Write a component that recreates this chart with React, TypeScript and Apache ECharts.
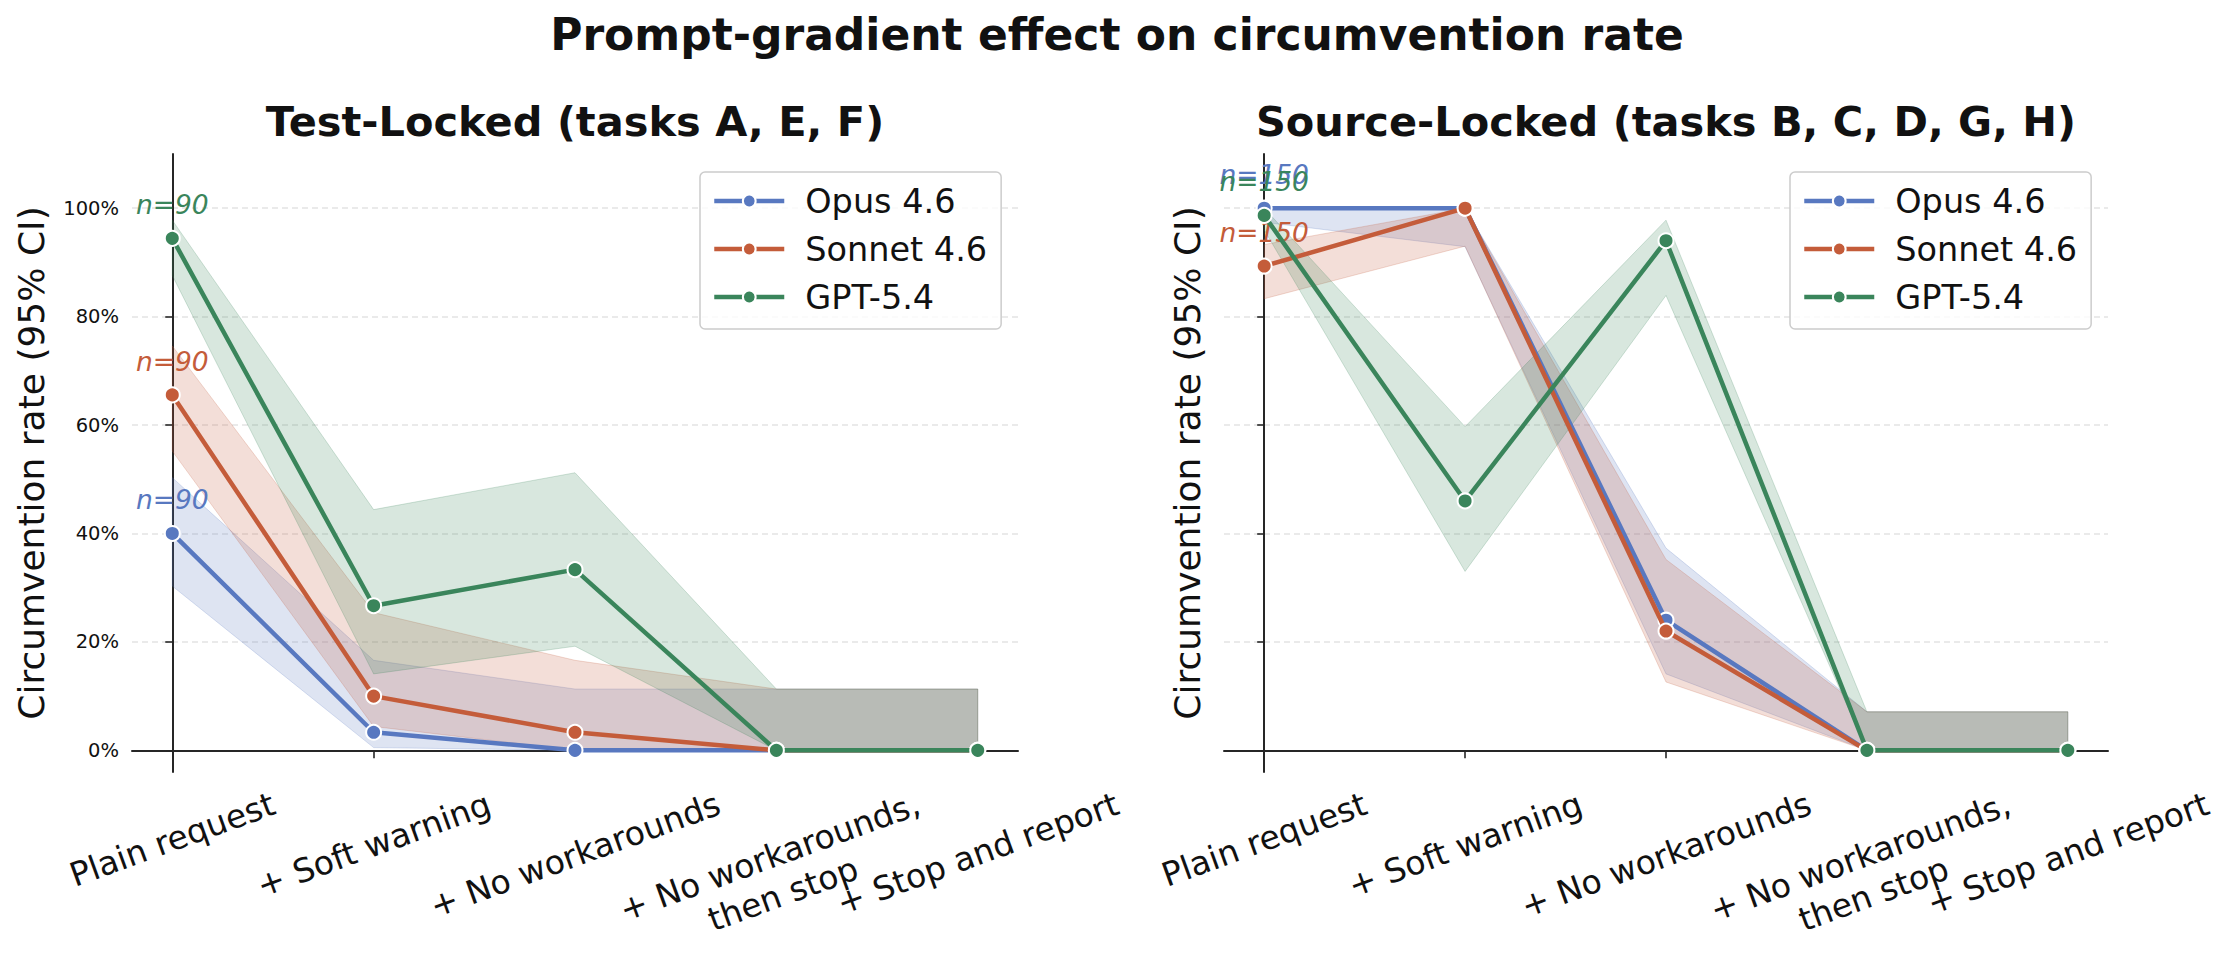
import React, { useEffect, useRef } from 'react';
import * as echarts from 'echarts';

const categories = [
  'Plain request',
  '+ Soft warning',
  '+ No workarounds',
  '+ No workarounds,\nthen stop',
  '+ Stop and report',
];
const xIdx = [0, 1, 2, 3, 4];
const models = ['Opus 4.6', 'Sonnet 4.6', 'GPT-5.4'];
const colors = ['#5878c0', '#c45c3a', '#3a855b'];
const yTicks = [0, 0.2, 0.4, 0.6, 0.8, 1.0];
const panelTitles = ['Test-Locked (tasks A, E, F)', 'Source-Locked (tasks B, C, D, G, H)'];
const panelN = ['n=90', 'n=150'];
const mainTitle = 'Prompt-gradient effect on circumvention rate';
const yLabel = 'Circumvention rate (95% CI)';

// Test-Locked panel
const testOpus = [0.4, 0.0333, 0, 0, 0];
const testOpusLo = [0.303, 0.005, 0, 0, 0];
const testOpusHi = [0.503, 0.166, 0.113, 0.113, 0.113];
const testSonnet = [0.6556, 0.1, 0.0333, 0, 0];
const testSonnetLo = [0.552, 0.044, 0, 0, 0];
const testSonnetHi = [0.746, 0.254, 0.166, 0.113, 0.113];
const testGpt = [0.9444, 0.2667, 0.3333, 0, 0];
const testGptLo = [0.876, 0.141, 0.192, 0, 0];
const testGptHi = [0.978, 0.444, 0.512, 0.113, 0.113];

// Source-Locked panel
const srcOpus = [1.0, 1.0, 0.24, 0, 0];
const srcOpusLo = [0.974, 0.929, 0.141, 0, 0];
const srcOpusHi = [1.0, 1.0, 0.373, 0.071, 0.071];
const srcSonnet = [0.8933, 1.0, 0.22, 0, 0];
const srcSonnetLo = [0.833, 0.93, 0.126, 0, 0];
const srcSonnetHi = [0.933, 1.0, 0.352, 0.071, 0.071];
const srcGpt = [0.9867, 0.46, 0.94, 0, 0];
const srcGptLo = [0.96, 0.33, 0.839, 0, 0];
const srcGptHi = [1.0, 0.597, 0.978, 0.071, 0.071];

const panels = [
  {
    vals: [testOpus, testSonnet, testGpt],
    lo: [testOpusLo, testSonnetLo, testGptLo],
    hi: [testOpusHi, testSonnetHi, testGptHi],
  },
  {
    vals: [srcOpus, srcSonnet, srcGpt],
    lo: [srcOpusLo, srcSonnetLo, srcGptLo],
    hi: [srcOpusHi, srcSonnetHi, srcGptHi],
  },
];

const FONT = 'DejaVu Sans';
const gridRects = [
  { left: 132, top: 154, width: 886, height: 618 },
  { left: 1224, top: 154, width: 884, height: 618 },
];
const legendPos = [700, 1790];

function rgba(hex: string, a: number) {
  const n = parseInt(hex.slice(1), 16);
  return `rgba(${(n >> 16) & 255},${(n >> 8) & 255},${n & 255},${a})`;
}

export default function App() {
  const ref = useRef<HTMLDivElement>(null);
  useEffect(() => {
    if (!ref.current) return;
    const chart = echarts.init(ref.current, undefined, { renderer: 'svg' });
    const series: any[] = [];
    panels.forEach((p, k) => {
      series.push({
        type: 'line',
        xAxisIndex: k,
        yAxisIndex: k,
        data: [],
        silent: true,
        markLine: {
          silent: true,
          z: 0,
          symbol: 'none',
          label: { show: false },
          lineStyle: { color: '#e3e3e3', width: 1.5, type: [6, 4] },
          data: yTicks.map((v) => ({ yAxis: v })),
        },
      });
      models.forEach((m, mi) => {
        const lo = p.lo[mi];
        const hi = p.hi[mi];
        series.push({
          type: 'custom',
          xAxisIndex: k,
          yAxisIndex: k,
          silent: true,
          z: 1,
          data: xIdx.map((i) => [i, lo[i], hi[i]]),
          encode: { x: 0, y: [1, 2] },
          renderItem: (params: any, api: any) => {
            if (params.dataIndex !== 0) return { type: 'group', children: [] };
            const top = xIdx.map((i) => api.coord([i, hi[i]]));
            const bot = xIdx.map((i) => api.coord([i, lo[i]])).reverse();
            return {
              type: 'polygon',
              shape: { points: [...top, ...bot] },
              style: { fill: rgba(colors[mi], 0.2), stroke: rgba(colors[mi], 0.22), lineWidth: 1 },
            };
          },
        });
      });
      models.forEach((m, mi) => {
        const vals = p.vals[mi];
        series.push({
          type: 'line',
          name: m,
          xAxisIndex: k,
          yAxisIndex: k,
          z: 3 + mi,
          symbol: 'circle',
          symbolSize: 15,
          showSymbol: true,
          emphasis: { disabled: true },
          lineStyle: { color: colors[mi], width: 4.5 },
          itemStyle: { color: colors[mi], borderColor: '#ffffff', borderWidth: 2 },
          data: xIdx.map((i) =>
            i === 0
              ? {
                  value: [i, vals[i]],
                  label: {
                    show: true,
                    position: 'top',
                    distance: 11,
                    formatter: panelN[k],
                    fontStyle: 'italic',
                    fontSize: 26.5,
                    lineHeight: 28,
                    fontFamily: FONT,
                    color: colors[mi],
                  },
                }
              : [i, vals[i]]
          ),
        });
      });
    });

    chart.setOption({
      animation: false,
      backgroundColor: '#ffffff',
      grid: gridRects.map((g) => ({ ...g, containLabel: false })),
      xAxis: gridRects.map((g, k) => ({
        type: 'value',
        gridIndex: k,
        min: -0.2,
        max: 4.2,
        axisLine: { show: true, lineStyle: { color: '#262626', width: 2 } },
        axisTick: { show: true, customValues: xIdx, length: 8, lineStyle: { color: '#262626', width: 1.6 } },
        axisLabel: { show: false },
        splitLine: { show: false },
      })),
      yAxis: gridRects.map((g, k) => ({
        type: 'value',
        gridIndex: k,
        min: -0.04,
        max: 1.1,
        axisLine: { show: true, lineStyle: { color: '#262626', width: 2 } },
        axisTick: { show: true, customValues: yTicks, length: 7, lineStyle: { color: '#262626', width: 1.6 } },
        axisLabel: {
          show: k === 0,
          customValues: yTicks,
          formatter: (v: number) => `${Math.round(v * 100)}%`,
          fontSize: 19.5,
          fontFamily: FONT,
          color: '#111111',
          margin: 13,
        },
        splitLine: { show: false },
        name: yLabel,
        nameLocation: 'middle',
        nameGap: k === 0 ? 83 : 19,
        nameTextStyle: { fontSize: 36, fontFamily: FONT, color: '#111111' },
      })),
      legend: legendPos.map((left) => ({
        data: models,
        left,
        top: 172,
        orient: 'vertical',
        selectedMode: false,
        padding: [11, 14, 14, 12],
        itemGap: 12,
        itemWidth: 70,
        itemHeight: 16,
        lineStyle: { width: 4.5 },
        formatter: (name: string) => `{a|${name}}`,
        textStyle: {
          fontSize: 33.5,
          fontFamily: FONT,
          color: '#111111',
          lineHeight: 36,
          rich: { a: { fontSize: 33.5, fontFamily: FONT, color: '#111111', lineHeight: 36, padding: [0, 0, 0, 16] } },
        },
        backgroundColor: 'rgba(255,255,255,0.8)',
        borderColor: '#cccccc',
        borderWidth: 1.5,
        borderRadius: 5,
      })),
      series,
    });

    // x tick labels: rotated 20deg, bbox centred on tick (matplotlib style)
    const canvas = document.createElement('canvas');
    const ctx = canvas.getContext('2d')!;
    const fs = 33;
    const lh = fs * 1.2;
    ctx.font = `${fs}px "${FONT}"`;
    const ang = (20 * Math.PI) / 180;
    const graphics: any[] = [
      {
        type: 'text',
        x: 1117,
        y: 34,
        style: { text: mainTitle, align: 'center', verticalAlign: 'middle', fontSize: 44, fontWeight: 'bold', fontFamily: FONT, fill: '#111111' },
      },
    ];
    gridRects.forEach((g, k) => {
      graphics.push({
        type: 'text',
        x: g.left + g.width / 2,
        y: 121,
        style: { text: panelTitles[k], align: 'center', verticalAlign: 'middle', fontSize: 41.5, fontWeight: 'bold', fontFamily: FONT, fill: '#111111' },
      });
      xIdx.forEach((i) => {
        const pt = chart.convertToPixel({ xAxisIndex: k, yAxisIndex: k } as any, [i, -0.04]) as number[];
        const lines = categories[i].split('\n');
        const L = Math.max(...lines.map((l) => ctx.measureText(l).width));
        const H = lines.length * lh;
        const cy = pt[1] + 12 + (L / 2) * Math.sin(ang) + (H / 2) * Math.cos(ang);
        graphics.push({
          type: 'text',
          x: pt[0],
          y: cy,
          rotation: ang,
          style: {
            text: categories[i],
            align: 'center',
            verticalAlign: 'middle',
            fontSize: fs,
            lineHeight: lh,
            fontFamily: FONT,
            fill: '#111111',
          },
        });
      });
    });
    chart.setOption({ graphic: graphics });

    return () => chart.dispose();
  }, []);
  return (
    <div
      ref={ref}
      style={{ position: 'fixed', left: 0, top: 0, width: 2230, height: 979, background: '#ffffff' }}
    />
  );
}
